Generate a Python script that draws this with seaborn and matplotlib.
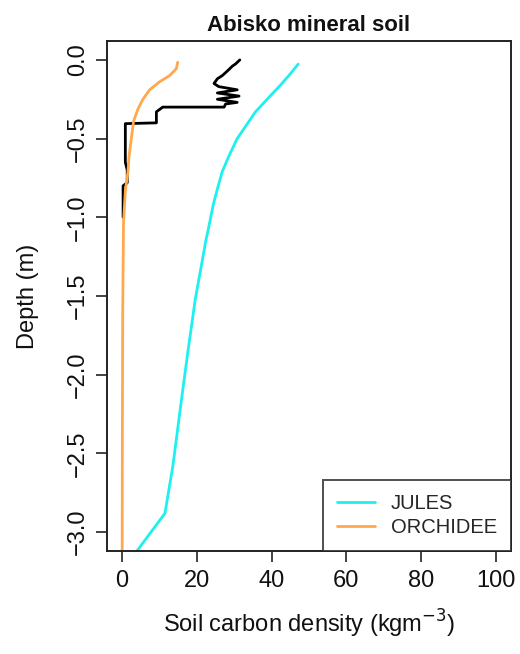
import matplotlib
matplotlib.use("Agg")
import matplotlib.pyplot as plt
import seaborn as sns
import pandas as pd

# Observed soil carbon profile (kg m-3) against depth (m)
obs_density = [31.5, 30.4, 29.5, 28.2, 26.8, 25.5, 24.6, 25.9, 30.8, 25.5, 31.3,
               25.5, 30.8, 27.7, 27.3, 10.9, 9.2, 9.2, 0.9, 0.9, 1.4, 1.4, 0.3, 0.3]
obs_depth = [0.0, -0.025, -0.04, -0.07, -0.10, -0.12, -0.15, -0.17, -0.19, -0.21, -0.23,
             -0.25, -0.27, -0.28, -0.30, -0.30, -0.33, -0.40, -0.405, -0.65, -0.70,
             -0.78, -0.80, -1.0]

# JULES modelled profile
jules_density = [47.1, 44.6, 42.0, 38.8, 35.7, 33.1, 30.8, 28.6, 26.8, 25.5, 24.4,
                 23.3, 22.4, 21.2, 19.6, 17.7, 15.9, 13.6, 11.5, 4.0]
jules_depth = [-0.027, -0.10, -0.17, -0.25, -0.33, -0.42, -0.50, -0.61, -0.71, -0.82,
               -0.92, -1.05, -1.15, -1.31, -1.52, -1.84, -2.16, -2.58, -2.88, -3.12]

# ORCHIDEE modelled profile
orchidee_density = [14.9, 14.5, 12.7, 10.0, 7.4, 5.6, 4.3, 3.1, 2.5, 1.9, 1.6, 0.9,
                    0.4, 0.2, 0.1, 0.05]
orchidee_depth = [-0.015, -0.057, -0.10, -0.14, -0.19, -0.25, -0.31, -0.39, -0.50,
                  -0.61, -0.71, -0.83, -1.04, -1.6, -2.4, -3.2]

x_ticks = [0, 20, 40, 60, 80, 100]
y_ticks = [0.0, -0.5, -1.0, -1.5, -2.0, -2.5, -3.0]

sns.set_theme(style="white")
plt.rcParams["font.family"] = ["Liberation Sans", "DejaVu Sans"]
plt.rcParams["axes.unicode_minus"] = True

fig = plt.figure(figsize=(5.2, 6.54), dpi=100)
ax = fig.add_axes([0.2058, 0.1575, 0.7769, 0.7798])

obs = pd.DataFrame({"density": obs_density, "depth": obs_depth})
jules = pd.DataFrame({"density": jules_density, "depth": jules_depth})
orch = pd.DataFrame({"density": orchidee_density, "depth": orchidee_depth})

sns.lineplot(data=obs, x="density", y="depth", sort=False, estimator=None,
             color="black", lw=2.0, ax=ax)
sns.lineplot(data=jules, x="density", y="depth", sort=False, estimator=None,
             color="#1EF0F0", lw=2.0, ax=ax, label="JULES")
sns.lineplot(data=orch, x="density", y="depth", sort=False, estimator=None,
             color="#FFA84C", lw=2.0, ax=ax, label="ORCHIDEE")

ax.set_xlim(-4, 104)
ax.set_ylim(-3.12, 0.12)
ax.set_xticks(x_ticks)
ax.set_xticklabels([str(v) for v in x_ticks])
ax.set_yticks(y_ticks)
ax.set_yticklabels([f"{v:.1f}".replace("-", "\u2212") for v in y_ticks],
                   rotation=90, va="center")

for s in ax.spines.values():
    s.set_visible(True)
    s.set_color("#222222")
    s.set_linewidth(1.4)

ax.tick_params(axis="both", direction="out", length=8, width=1.2,
               color="#222222", labelsize=17, labelcolor="#111111",
               bottom=True, left=True)
ax.tick_params(axis="x", pad=6)
ax.tick_params(axis="y", pad=5)

ax.set_xlabel("Soil carbon density (kgm$^{-3}$)", fontsize=17, labelpad=11,
              color="#111111")
ax.set_ylabel("Depth (m)", fontsize=17, labelpad=20, color="#111111")
ax.set_title("Abisko mineral soil", fontsize=16, fontweight="bold", pad=7,
             color="#111111")

leg = ax.legend(loc="lower right", fontsize=14.5, frameon=True, fancybox=False,
                borderpad=0.7, handlelength=1.85, handletextpad=0.8,
                labelspacing=0.25, borderaxespad=0.0)
leg.get_frame().set_edgecolor("#222222")
leg.get_frame().set_linewidth(1.4)
leg.get_frame().set_boxstyle("square", pad=0.0)

fig.savefig("out.png", dpi=100)
